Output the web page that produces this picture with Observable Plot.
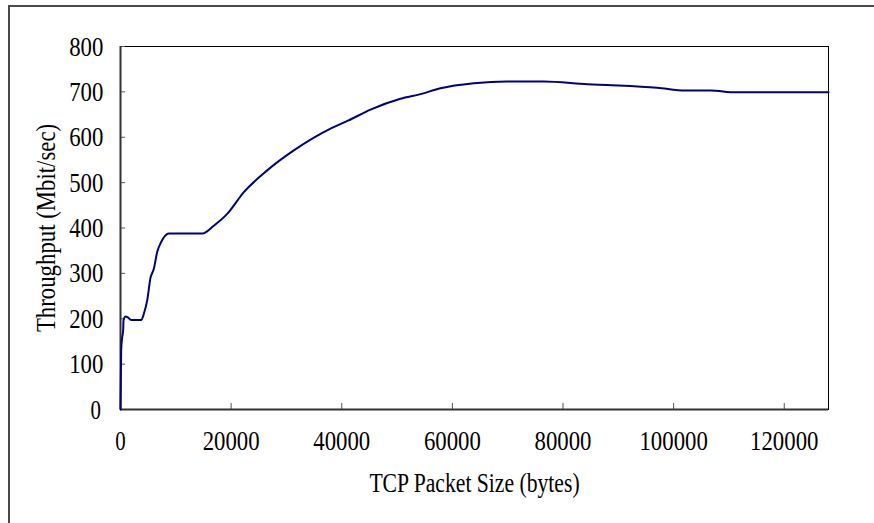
<!DOCTYPE html>
<html><head><meta charset="utf-8">
<script src="https://cdn.jsdelivr.net/npm/d3@7"></script>
<script src="https://cdn.jsdelivr.net/npm/@observablehq/plot@0.6"></script>
<style>
html,body{margin:0;padding:0;background:#fff;}
#wrap{position:relative;width:874px;height:523px;overflow:hidden;}
#border{position:absolute;left:8px;top:5px;width:900px;height:560px;border-top:2px solid #4a4a4a;border-left:2px solid #4a4a4a;pointer-events:none;}
</style></head><body><div id="wrap"><div id="chart"></div><div id="border"></div></div>
<script>
const packetSize = [0, 120, 300, 480, 540, 900, 1320, 1930, 3740, 4220, 4820, 5420, 6030, 6630, 7350, 8740, 14800, 16870, 19290, 22300, 26520, 31330, 37970, 41220, 45200, 50620, 54240, 57860, 63880, 69900, 76530, 84380, 88000, 97030, 102150, 106670, 111190, 128000];
const throughput = [0, 130, 159, 174, 196, 205, 203, 197, 197, 211, 240, 290, 310, 347, 369, 388, 388, 405, 431, 479, 527, 571, 619, 637, 661, 685, 695, 708, 719, 723, 723, 717, 715, 709, 703, 703, 699, 699];
const xTicks = [0, 20000, 40000, 60000, 80000, 100000, 120000];
const yTicks = [0, 100, 200, 300, 400, 500, 600, 700, 800];
const xLabel = "TCP Packet Size (bytes)";
const yLabel = "Throughput (Mbit/sec)";

const data = packetSize.map((x, i) => ({x, y: throughput[i]}));
const font = "'Liberation Serif', 'DejaVu Serif', serif";

const chart = Plot.plot({
  width: 874, height: 523,
  marginLeft: 120, marginRight: 46, marginTop: 46, marginBottom: 114,
  style: {fontFamily: font, fontSize: "19px", color: "#000", background: "#fff", overflow: "visible"},
  x: {domain: [0, 128000]},
  y: {domain: [0, 800]},
  marks: [
    Plot.frame({stroke: "#000", strokeWidth: 1}),
    Plot.axisX(xTicks, {tickSize: -6, tickFormat: () => "", stroke: "#555", strokeWidth: 1, label: null}),
    Plot.axisY(yTicks, {tickSize: -5, tickFormat: () => "", stroke: "#555", strokeWidth: 1, label: null}),
    Plot.axisX(xTicks, {tickSize: 0, tickPadding: 24, tickFormat: d => String(d), label: xLabel, labelAnchor: "center", labelArrow: "none", labelOffset: 80}),
    Plot.axisY(yTicks, {tickSize: 0, tickPadding: 20, tickFormat: d => String(d), label: yLabel, labelAnchor: "center", labelArrow: "none", labelOffset: 82}),
    Plot.ruleX([0], {stroke: "#333", strokeWidth: 2}),
    Plot.ruleY([0], {stroke: "#333", strokeWidth: 2}),
    Plot.line(data, {x: "x", y: "y", stroke: "#000080", strokeWidth: 2, curve: "monotone-x"})
  ]
});
document.getElementById("chart").appendChild(chart);
// widen and stretch glyphs to mimic the tall, monospaced Mincho face
const SY = 1.45;
chart.querySelectorAll("text").forEach(t => {
  const s = t.textContent;
  if (!s) return;
  const SX = s === xLabel ? 1.14 : (s.length > 1 ? 1.2 : 1.1);
  const b = t.getBBox();
  const cx = b.x + b.width / 2, cy = b.y + b.height / 2;
  const prev = t.getAttribute("transform") || "";
  t.setAttribute("transform", `${prev} translate(${cx},${cy}) scale(${SX},${SY}) translate(${-cx},${-cy})`);
});
</script></body></html>
